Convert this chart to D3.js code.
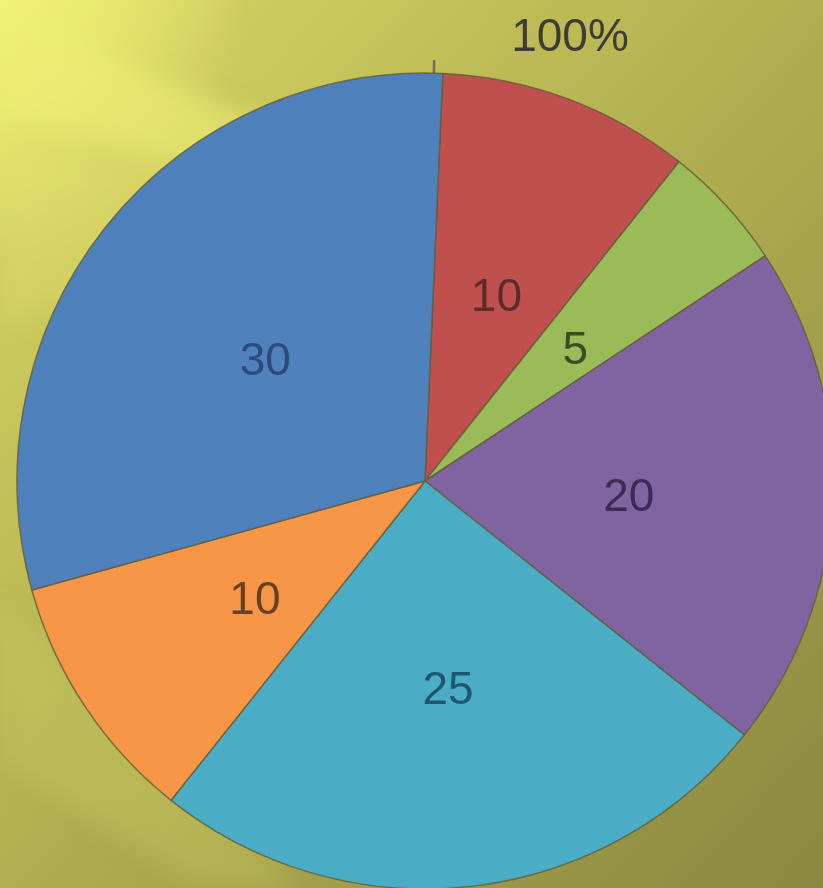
<!DOCTYPE html>
<html>
<head>
    <title>Pie Chart</title>
    <script src="https://cdn.jsdelivr.net/npm/d3@7"></script>
    <style>
        html, body {
            margin: 0;
            padding: 0;
            overflow: hidden;
            background-color: #a9a64e;
        }
        svg {
            display: block;
        }
    </style>
</head>
<body>
    <div id="chart"></div>

    <script>
        // slices, clockwise from the top
        const categories = ["A", "B", "C", "D", "E", "F"];
        const values = [10, 5, 20, 25, 10, 30];
        const colors = ["#c0504d", "#9bbb59", "#8064a2", "#4bacc6", "#f79646", "#4f81bd"];
        const labelColors = ["#5e2b2b", "#3c4d25", "#3b2c55", "#1f5670", "#6a4020", "#2d4a78"];
        const axisLabel = "100%";

        const width = 823;
        const height = 888;
        const cx = 425, cy = 481, radius = 408;
        const rotation = 2.5 * Math.PI / 180;

        const svg = d3.select("#chart")
            .append("svg")
            .attr("width", width)
            .attr("height", height);

        // background gradient
        const defs = svg.append("defs");
        const bg = defs.append("linearGradient")
            .attr("id", "bg")
            .attr("x1", "0%").attr("y1", "0%")
            .attr("x2", "100%").attr("y2", "100%");
        [["0%", "#e6e46a"], ["15%", "#cfcc5e"], ["38%", "#bbb855"], ["65%", "#a5a24b"], ["100%", "#8b8740"]]
            .forEach(s => bg.append("stop").attr("offset", s[0]).attr("stop-color", s[1]));

        const glow = defs.append("radialGradient")
            .attr("id", "glow")
            .attr("cx", "0%").attr("cy", "0%").attr("r", "30%");
        glow.append("stop").attr("offset", "0%").attr("stop-color", "#f4f378").attr("stop-opacity", 0.9);
        glow.append("stop").attr("offset", "100%").attr("stop-color", "#f4f378").attr("stop-opacity", 0);

        const blur = defs.append("filter").attr("id", "blur")
            .attr("x", "-20%").attr("y", "-20%").attr("width", "140%").attr("height", "140%");
        blur.append("feGaussianBlur").attr("stdDeviation", 12);

        svg.append("rect")
            .attr("width", width)
            .attr("height", height)
            .attr("fill", "url(#bg)");

        svg.append("rect")
            .attr("width", width)
            .attr("height", height)
            .attr("fill", "url(#glow)");

        // diagonal light streaks
        const streaks = svg.append("g").attr("filter", "url(#blur)");
        streaks.append("polygon")
            .attr("points", "0,10 0,110 250,190 280,130")
            .attr("fill", "#eeed74").attr("opacity", 0.6);
        streaks.append("polygon")
            .attr("points", "0,150 0,330 160,260 200,170")
            .attr("fill", "#e4e26c").attr("opacity", 0.35);
        streaks.append("polygon")
            .attr("points", "0,600 0,760 200,888 300,888")
            .attr("fill", "#cccb60").attr("opacity", 0.35);

        const g = svg.append("g")
            .attr("transform", `translate(${cx},${cy})`);

        const pie = d3.pie()
            .sort(null)
            .value(d => d)
            .startAngle(rotation)
            .endAngle(rotation + 2 * Math.PI);

        const arcs = pie(values);

        const arc = d3.arc()
            .innerRadius(0)
            .outerRadius(radius);

        // tick above the pie
        const tickAngle = rotation / 2;
        g.append("line")
            .attr("x1", Math.sin(tickAngle) * (radius - 2))
            .attr("y1", -Math.cos(tickAngle) * (radius - 2))
            .attr("x2", Math.sin(tickAngle) * (radius + 13))
            .attr("y2", -Math.cos(tickAngle) * (radius + 13))
            .attr("stroke", "#707058")
            .attr("stroke-width", 2.5);

        g.selectAll("path.slice")
            .data(arcs)
            .enter()
            .append("path")
            .attr("class", "slice")
            .attr("d", arc)
            .attr("fill", (d, i) => colors[i])
            .attr("stroke", "#5f5e3c")
            .attr("stroke-opacity", 0.8)
            .attr("stroke-width", 1.5)
            .attr("stroke-linejoin", "round");

        g.selectAll("text.value")
            .data(arcs)
            .enter()
            .append("text")
            .attr("class", "value")
            .attr("transform", d => `translate(${arc.centroid(d)})`)
            .attr("text-anchor", "middle")
            .attr("dy", "0.45em")
            .style("font-family", "'Liberation Sans', Arial, sans-serif")
            .style("font-size", "46px")
            .attr("fill", (d, i) => labelColors[i])
            .text(d => d.data);

        svg.append("text")
            .attr("x", 570)
            .attr("y", 51)
            .attr("text-anchor", "middle")
            .style("font-family", "'Liberation Sans', Arial, sans-serif")
            .style("font-size", "46px")
            .attr("fill", "#3d3d33")
            .text(axisLabel);
    </script>
</body>
</html>
